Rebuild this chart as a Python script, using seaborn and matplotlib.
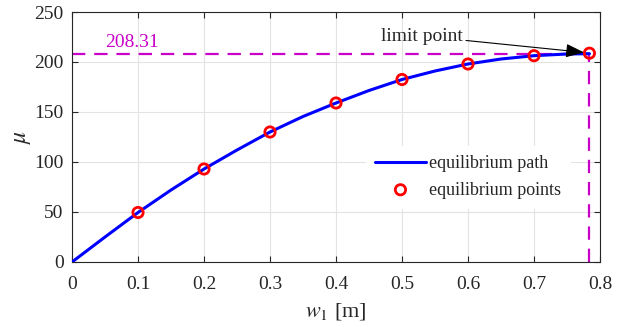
import matplotlib
matplotlib.use("Agg")
import matplotlib.pyplot as plt
import seaborn as sns
import pandas as pd

# curve values
path_w = [0.0, 0.05, 0.1, 0.15, 0.2, 0.25, 0.3, 0.35, 0.4, 0.45, 0.5,
          0.55, 0.6, 0.65, 0.7, 0.75, 0.784]
path_mu = [0.0, 25.0, 49.5, 72.0, 93.0, 112.0, 130.0, 145.5, 159.0, 171.5,
           182.5, 191.0, 198.0, 203.0, 206.3, 208.0, 208.31]

# equilibrium points
pts_w = [0.1, 0.2, 0.3, 0.4, 0.5, 0.6, 0.7, 0.784]
pts_mu = [49.5, 93.0, 130.0, 159.0, 182.5, 198.0, 206.3, 208.8]

limit_w = 0.784
limit_mu = 208.31

x_ticks = [0, 0.1, 0.2, 0.3, 0.4, 0.5, 0.6, 0.7, 0.8]
x_labels = ["0", "0.1", "0.2", "0.3", "0.4", "0.5", "0.6", "0.7", "0.8"]
y_ticks = [0, 50, 100, 150, 200, 250]

sns.set_style("ticks")
plt.rcParams["font.family"] = ["Liberation Serif", "DejaVu Serif"]
plt.rcParams["mathtext.fontset"] = "stix"

path_df = pd.DataFrame({"w": path_w, "mu": path_mu})
pts_df = pd.DataFrame({"w": pts_w, "mu": pts_mu})

fig = plt.figure(figsize=(6.22, 3.27), dpi=100)
ax = fig.add_axes([0.1158, 0.1988, 0.8488, 0.7645])

ax.grid(True, color="#e3e3e3", linewidth=0.8)
ax.set_axisbelow(True)

mag = "#c800c8"
ax.plot([0, limit_w], [limit_mu, limit_mu], color=mag, lw=1.6,
        dashes=(6, 4), zorder=2)
ax.plot([limit_w, limit_w], [0, limit_mu], color=mag, lw=1.6,
        dashes=(6, 4), zorder=2)

sns.lineplot(data=path_df, x="w", y="mu", ax=ax, color="#0000ff", lw=2.2,
             label="equilibrium path", zorder=3, sort=False)
sns.scatterplot(data=pts_df, x="w", y="mu", ax=ax, marker="o", s=55,
                facecolor="none", edgecolor="#ff0000", linewidth=2,
                label="equilibrium points", zorder=4)

ax.text(0.05, limit_mu + 2.5, "208.31", color=mag, fontsize=14,
        ha="left", va="bottom")
ax.annotate("limit point", xy=(limit_w - 0.004, limit_mu + 1),
            xytext=(0.592, 226), fontsize=14, ha="right", va="center",
            arrowprops=dict(arrowstyle="-|>,head_length=0.8,head_width=0.3",
                            color="black", lw=0.8, shrinkA=0, shrinkB=2))

ax.set_xlim(0, 0.8)
ax.set_ylim(0, 250)
ax.set_xticks(x_ticks)
ax.set_xticklabels(x_labels)
ax.set_yticks(y_ticks)
ax.tick_params(direction="in", top=True, right=True, labelsize=14,
               length=4, width=0.8, colors="#262626", pad=6)
ax.tick_params(axis="x", pad=10)
for s in ax.spines.values():
    s.set_visible(True)
    s.set_color("#262626")
    s.set_linewidth(0.8)

ax.set_xlabel(r"$w_{\mathit{1}}$ [m]", fontsize=16, labelpad=6)
ax.set_ylabel(r"$\mu$", fontsize=17, labelpad=1)

leg = ax.legend(loc="center left", bbox_to_anchor=(0.54, 0.34), fontsize=13,
                frameon=True, framealpha=1, edgecolor="white",
                facecolor="white", fancybox=False, handlelength=2.8,
                handletextpad=0.2, borderpad=0.5, labelspacing=0.5)

fig.savefig("out.png", dpi=100)
